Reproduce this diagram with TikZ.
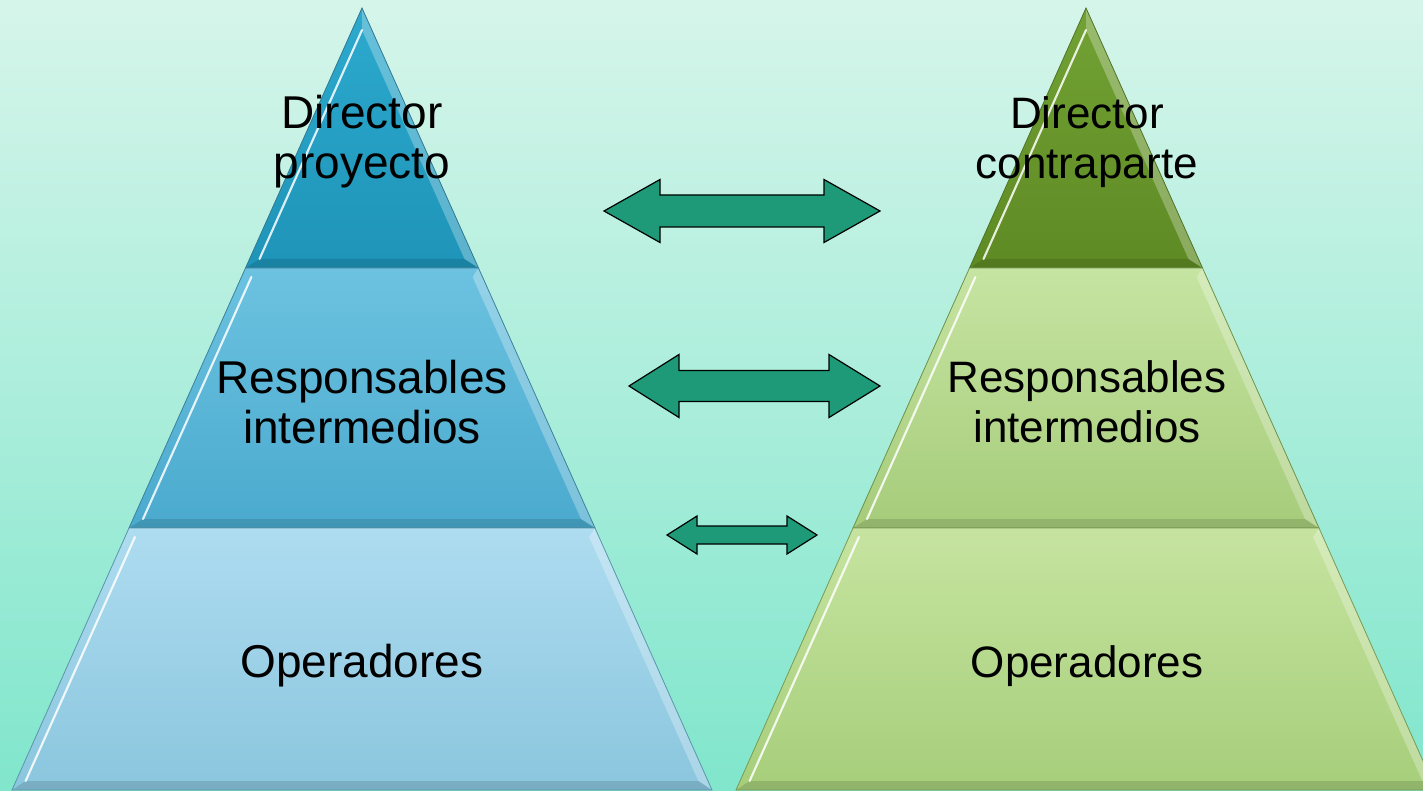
\documentclass[tikz,border=0pt]{standalone}
\usepackage{fontspec}
\setmainfont{Liberation Sans}
\begin{document}
\begin{tikzpicture}[x=0.75pt,y=0.75pt,yscale=-1,xscale=1,
  edge/.style={line width=0.6pt},
  shine/.style={draw=white,draw opacity=0.85,line width=1.6pt,line cap=round},
  lightband/.style={fill=white,fill opacity=0.28},
  darkband/.style={fill=black,fill opacity=0.12},
  blockarrow/.style={fill={rgb, 255:red, 30; green, 154; blue, 120},draw=black,line width=0.9pt,line join=miter},
  label/.style={inner sep=0.75pt,align=center,font=\fontsize{34.5}{37.5}\selectfont},
  labelR/.style={label,font=\fontsize{33}{37.5}\selectfont}]
\useasboundingbox (0,0) rectangle (1423,791);
%Background
\shade [top color={rgb, 255:red, 214; green, 245; blue, 234}, bottom color={rgb, 255:red, 128; green, 230; blue, 204}] (0,0) rectangle (1423,791);

%Shape: Pyramid left, top tier
\shade [top color={rgb, 255:red, 44; green, 170; blue, 206}, bottom color={rgb, 255:red, 30; green, 148; blue, 184}] (362,8) -- (478.5,268) -- (245.5,268) -- cycle ;
\fill [lightband] (362,8) -- (478.5,268) -- (464.5,259) -- (362,30) -- cycle ;
\fill [darkband] (245.5,268) -- (478.5,268) -- (464.5,259) -- (259.5,259) -- cycle ;
\draw [shine] (362,30) -- (259.5,259) ;
\draw [edge, draw={rgb, 255:red, 50; green, 120; blue, 145}] (362,8) -- (478.5,268) -- (245.5,268) -- cycle ;
%Shape: Pyramid left, middle tier
\shade [top color={rgb, 255:red, 108; green, 194; blue, 224}, bottom color={rgb, 255:red, 74; green, 170; blue, 206}] (245.5,268) -- (478.5,268) -- (595,528) -- (129,528) -- cycle ;
\fill [lightband] (478.5,268) -- (595,528) -- (581,519) -- (472.6,277) -- cycle ;
\fill [darkband] (129,528) -- (595,528) -- (581,519) -- (143,519) -- cycle ;
\draw [shine] (251.4,277) -- (143,519) ;
\draw [edge, draw={rgb, 255:red, 60; green, 130; blue, 155}] (245.5,268) -- (478.5,268) -- (595,528) -- (129,528) -- cycle ;
%Shape: Pyramid left, bottom tier
\shade [top color={rgb, 255:red, 174; green, 220; blue, 240}, bottom color={rgb, 255:red, 138; green, 198; blue, 222}] (129,528) -- (595,528) -- (712,790) -- (12,790) -- cycle ;
\fill [lightband] (595,528) -- (712,790) -- (698.4,781) -- (589.1,537) -- cycle ;
\fill [darkband] (12,790) -- (712,790) -- (698.4,781) -- (25.6,781) -- cycle ;
\draw [shine] (134.9,537) -- (25.6,781) ;
\draw [edge, draw={rgb, 255:red, 90; green, 150; blue, 170}] (129,528) -- (595,528) -- (712,790) -- (12,790) -- cycle ;

\begin{scope}[shift={(724,0)}]
%Shape: Pyramid right, top tier
\shade [top color={rgb, 255:red, 114; green, 162; blue, 52}, bottom color={rgb, 255:red, 94; green, 138; blue, 36}] (362,8) -- (478.5,268) -- (245.5,268) -- cycle ;
\fill [lightband] (362,8) -- (478.5,268) -- (464.5,259) -- (362,30) -- cycle ;
\fill [darkband] (245.5,268) -- (478.5,268) -- (464.5,259) -- (259.5,259) -- cycle ;
\draw [shine] (362,30) -- (259.5,259) ;
\draw [edge, draw={rgb, 255:red, 80; green, 115; blue, 40}] (362,8) -- (478.5,268) -- (245.5,268) -- cycle ;
%Shape: Pyramid right, middle tier
\shade [top color={rgb, 255:red, 198; green, 228; blue, 162}, bottom color={rgb, 255:red, 166; green, 204; blue, 122}] (245.5,268) -- (478.5,268) -- (595,528) -- (129,528) -- cycle ;
\fill [lightband] (478.5,268) -- (595,528) -- (581,519) -- (472.6,277) -- cycle ;
\fill [darkband] (129,528) -- (595,528) -- (581,519) -- (143,519) -- cycle ;
\draw [shine] (251.4,277) -- (143,519) ;
\draw [edge, draw={rgb, 255:red, 110; green, 145; blue, 75}] (245.5,268) -- (478.5,268) -- (595,528) -- (129,528) -- cycle ;
%Shape: Pyramid right, bottom tier
\shade [top color={rgb, 255:red, 198; green, 228; blue, 160}, bottom color={rgb, 255:red, 166; green, 206; blue, 122}] (129,528) -- (595,528) -- (712,790) -- (12,790) -- cycle ;
\fill [lightband] (595,528) -- (712,790) -- (698.4,781) -- (589.1,537) -- cycle ;
\fill [darkband] (12,790) -- (712,790) -- (698.4,781) -- (25.6,781) -- cycle ;
\draw [shine] (134.9,537) -- (25.6,781) ;
\draw [edge, draw={rgb, 255:red, 120; green, 155; blue, 85}] (129,528) -- (595,528) -- (712,790) -- (12,790) -- cycle ;
\end{scope}

%Shape: Double arrow, top
\draw [blockarrow] (604,211) -- (660,179.5) -- (660,195) -- (824,195) -- (824,179.5) -- (880,211) -- (824,242.5) -- (824,227) -- (660,227) -- (660,242.5) -- cycle ;
%Shape: Double arrow, middle
\draw [blockarrow] (629,386) -- (679,354.5) -- (679,370.5) -- (829,370.5) -- (829,354.5) -- (880,386) -- (829,417.5) -- (829,401.5) -- (679,401.5) -- (679,417.5) -- cycle ;
%Shape: Double arrow, bottom
\draw [blockarrow] (667,535) -- (697,516) -- (697,526) -- (787,526) -- (787,516) -- (817,535) -- (787,554) -- (787,544) -- (697,544) -- (697,554) -- cycle ;

% Text Node
\draw (362,142) node (dirL) [label] {Director\\proyecto};
% Text Node
\draw (362,402) node (respL) [label] {Responsables\\intermedios};
% Text Node
\draw (362,666) node (opL) [label] {Operadores};
% Text Node
\draw (1087,142) node (dirR) [labelR] {Director\\contraparte};
% Text Node
\draw (1087,402) node (respR) [labelR] {Responsables\\intermedios};
% Text Node
\draw (1087,666) node (opR) [labelR] {Operadores};

\end{tikzpicture}
\end{document}
